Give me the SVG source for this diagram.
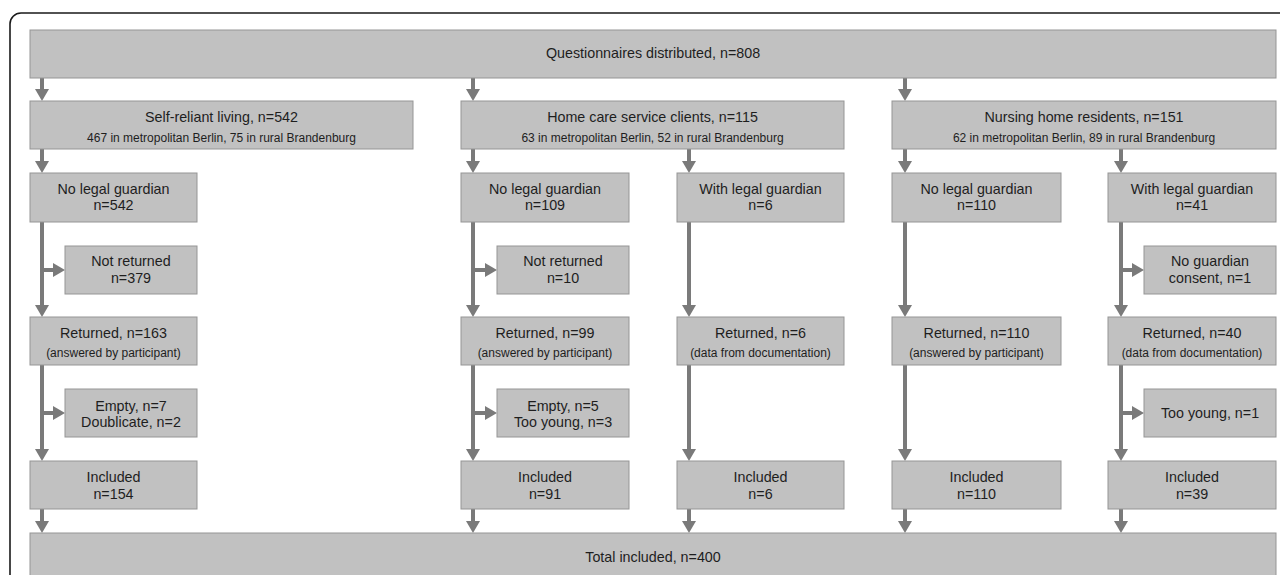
<svg xmlns="http://www.w3.org/2000/svg" width="1280" height="575" viewBox="0 0 1280 575">
<style>
.box{fill:#c1c1c1;stroke:#959595;stroke-width:1}
.t{font-family:"Liberation Sans",Arial,sans-serif;font-size:14.3px;fill:#1e1e1e;text-anchor:middle}
.s{font-family:"Liberation Sans",Arial,sans-serif;font-size:12px;fill:#1e1e1e;text-anchor:middle}
.c{stroke:#7a7a7a;stroke-width:4;fill:none;marker-end:url(#ah)}
</style>
<defs>
<marker id="ah" markerUnits="userSpaceOnUse" markerWidth="14" markerHeight="14" refX="4" refY="7" orient="auto">
<path d="M0,0 L12,7 L0,14 z" fill="#7a7a7a"/>
</marker>
</defs>
<rect x="10" y="13" width="1300" height="600" rx="11" fill="#fff" stroke="#1a1a1a" stroke-width="1.6"/>
<g id="connectors">
<path class="c" d="M42,78 V93"/>
<path class="c" d="M473,78 V93"/>
<path class="c" d="M905,78 V93"/>
<path class="c" d="M42,149 V165"/>
<path class="c" d="M473,149 V165"/>
<path class="c" d="M689,149 V165"/>
<path class="c" d="M905,149 V165"/>
<path class="c" d="M1121,149 V165"/>
<path class="c" d="M42,222 V309"/>
<path class="c" d="M473,222 V309"/>
<path class="c" d="M689,222 V309"/>
<path class="c" d="M905,222 V309"/>
<path class="c" d="M1121,222 V309"/>
<path class="c" d="M42,270 H57"/>
<path class="c" d="M473,270 H489"/>
<path class="c" d="M1121,270 H1136"/>
<path class="c" d="M42,365 V453"/>
<path class="c" d="M473,365 V453"/>
<path class="c" d="M689,365 V453"/>
<path class="c" d="M905,365 V453"/>
<path class="c" d="M1121,365 V453"/>
<path class="c" d="M42,413 H57"/>
<path class="c" d="M473,413 H489"/>
<path class="c" d="M1121,413 H1136"/>
<path class="c" d="M42,509 V525"/>
<path class="c" d="M473,509 V525"/>
<path class="c" d="M689,509 V525"/>
<path class="c" d="M905,509 V525"/>
<path class="c" d="M1121,509 V525"/>
</g>
<g id="distributed"><rect class="box" x="30" y="30" width="1246" height="48"/><text class="t" x="653" y="58">Questionnaires distributed, n=808</text></g>
<g id="self-reliant"><rect class="box" x="30" y="101" width="383" height="48"/><text class="t" x="221.5" y="122">Self-reliant living, n=542</text><text class="s" x="221.5" y="142">467 in metropolitan Berlin, 75 in rural Brandenburg</text></g>
<g id="homecare"><rect class="box" x="461" y="101" width="383" height="48"/><text class="t" x="652.5" y="122">Home care service clients, n=115</text><text class="s" x="652.5" y="142">63 in metropolitan Berlin, 52 in rural Brandenburg</text></g>
<g id="nursing"><rect class="box" x="892" y="101" width="384" height="48"/><text class="t" x="1084" y="122">Nursing home residents, n=151</text><text class="s" x="1084" y="142">62 in metropolitan Berlin, 89 in rural Brandenburg</text></g>

<g id="sr-nolegal"><rect class="box" x="30" y="173" width="167" height="49"/><text class="t" x="113.5" y="194">No legal guardian</text><text class="t" x="113.5" y="210">n=542</text></g>
<g id="hc-nolegal"><rect class="box" x="461" y="173" width="168" height="49"/><text class="t" x="545" y="194">No legal guardian</text><text class="t" x="545" y="210">n=109</text></g>
<g id="hc-legal"><rect class="box" x="677" y="173" width="167" height="49"/><text class="t" x="760.5" y="194">With legal guardian</text><text class="t" x="760.5" y="210">n=6</text></g>
<g id="nh-nolegal"><rect class="box" x="892" y="173" width="169" height="49"/><text class="t" x="976.5" y="194">No legal guardian</text><text class="t" x="976.5" y="210">n=110</text></g>
<g id="nh-legal"><rect class="box" x="1108" y="173" width="168" height="49"/><text class="t" x="1192" y="194">With legal guardian</text><text class="t" x="1192" y="210">n=41</text></g>

<g id="sr-notreturned"><rect class="box" x="65" y="246" width="132" height="48"/><text class="t" x="131" y="266">Not returned</text><text class="t" x="131" y="283">n=379</text></g>
<g id="hc-notreturned"><rect class="box" x="497" y="246" width="132" height="48"/><text class="t" x="563" y="266">Not returned</text><text class="t" x="563" y="283">n=10</text></g>
<g id="nh-noconsent"><rect class="box" x="1144" y="246" width="132" height="48"/><text class="t" x="1210" y="266">No guardian</text><text class="t" x="1210" y="283">consent, n=1</text></g>

<g id="sr-returned"><rect class="box" x="30" y="317" width="167" height="48"/><text class="t" x="113.5" y="338">Returned, n=163</text><text class="s" x="113.5" y="357">(answered by participant)</text></g>
<g id="hc-returned"><rect class="box" x="461" y="317" width="168" height="48"/><text class="t" x="545" y="338">Returned, n=99</text><text class="s" x="545" y="357">(answered by participant)</text></g>
<g id="hc-returned-doc"><rect class="box" x="677" y="317" width="167" height="48"/><text class="t" x="760.5" y="338">Returned, n=6</text><text class="s" x="760.5" y="357">(data from documentation)</text></g>
<g id="nh-returned"><rect class="box" x="892" y="317" width="169" height="48"/><text class="t" x="976.5" y="338">Returned, n=110</text><text class="s" x="976.5" y="357">(answered by participant)</text></g>
<g id="nh-returned-doc"><rect class="box" x="1108" y="317" width="168" height="48"/><text class="t" x="1192" y="338">Returned, n=40</text><text class="s" x="1192" y="357">(data from documentation)</text></g>

<g id="sr-excluded"><rect class="box" x="65" y="389" width="132" height="48"/><text class="t" x="131" y="411">Empty, n=7</text><text class="t" x="131" y="427">Doublicate, n=2</text></g>
<g id="hc-excluded"><rect class="box" x="497" y="389" width="132" height="48"/><text class="t" x="563" y="411">Empty, n=5</text><text class="t" x="563" y="427">Too young, n=3</text></g>
<g id="nh-excluded"><rect class="box" x="1144" y="389" width="132" height="48"/><text class="t" x="1210" y="418">Too young, n=1</text></g>

<g id="sr-included"><rect class="box" x="30" y="461" width="167" height="48"/><text class="t" x="113.5" y="482">Included</text><text class="t" x="113.5" y="499">n=154</text></g>
<g id="hc-included"><rect class="box" x="461" y="461" width="168" height="48"/><text class="t" x="545" y="482">Included</text><text class="t" x="545" y="499">n=91</text></g>
<g id="hc-included-doc"><rect class="box" x="677" y="461" width="167" height="48"/><text class="t" x="760.5" y="482">Included</text><text class="t" x="760.5" y="499">n=6</text></g>
<g id="nh-included"><rect class="box" x="892" y="461" width="169" height="48"/><text class="t" x="976.5" y="482">Included</text><text class="t" x="976.5" y="499">n=110</text></g>
<g id="nh-included-doc"><rect class="box" x="1108" y="461" width="168" height="48"/><text class="t" x="1192" y="482">Included</text><text class="t" x="1192" y="499">n=39</text></g>

<g id="total"><rect class="box" x="30" y="533" width="1246" height="60"/><text class="t" x="653" y="562">Total included, n=400</text></g>
</svg>
